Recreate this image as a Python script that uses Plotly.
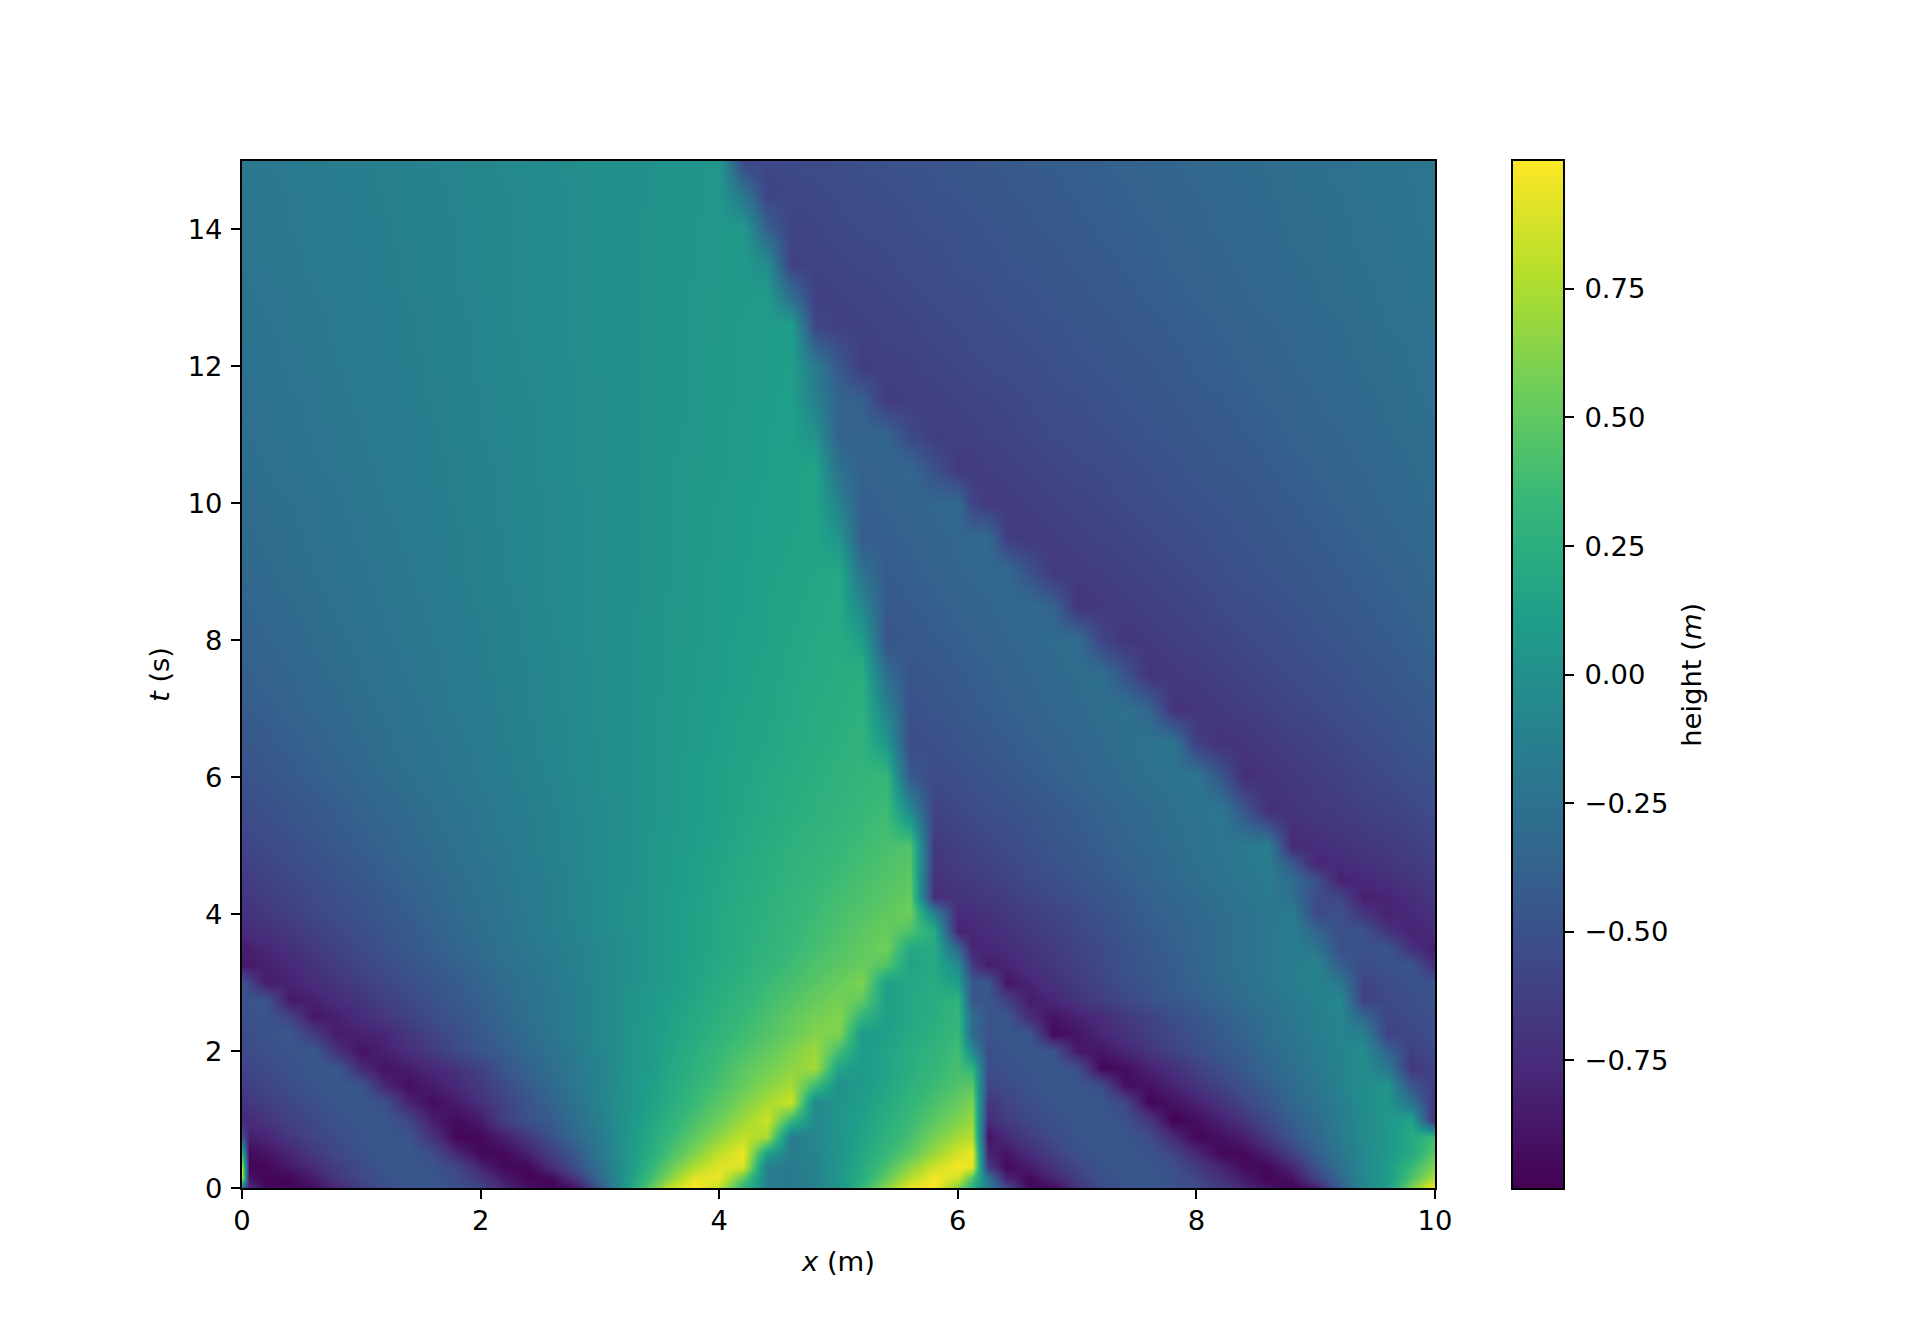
import plotly.graph_objects as go

x_m = [0,.06,.2,.4,.6,.8,1,1.2,1.4,1.6,1.8,2,2.2,2.4,2.6,2.8,3,3.2,3.4,3.6,3.8,4,4.2,4.4,4.6,4.8,5,5.2,5.4,5.6,5.8,6,6.12,6.25,6.4,6.6,6.8,7,7.2,7.4,7.6,7.8,8,8.2,8.4,8.6,8.8,9,9.2,9.4,9.6,9.8,10]
t_s = [0,.15,.3,.5,.75,1,1.25,1.5,1.75,2,2.25,2.5,2.75,3,3.25,3.5,3.75,4,4.25,4.5,4.75,5,5.5,6,6.5,7,7.5,8,8.5,9,9.5,10,10.5,11,11.5,12,12.6,13,13.5,14,14.5,15]

h_000 = [-.3,-.75, -.95,-1,-.92,-.78,-.62, -.52,-.46,-.45,-.5,-.6, -.78,-.92,-1,-.9,-.45, .05,.45,.85,1,.8, .3,-.12,-.2,-.12,.05, .3,.65,.95,1,.6, .25,-.15, -.55,-.95,-.95,-.72, -.55,-.47,-.45,-.48,-.53, -.65,-.78,-.9,-1,-.85, -.4,-.08,.1,.6,1]
h_015 = [.8,-.9, -.98,-.97,-.84,-.68,-.57, -.49,-.45,-.47,-.54,-.68, -.87,-.98,-.95,-.68,-.3, .03,.35,.65,.93,.94, .5,-.13,-.2,-.11,.05, .25,.5,.78,.97,.86, .45,-.25, -.8,-.95,-.8,-.63, -.51,-.46,-.46,-.5,-.58, -.72,-.86,-.98,-.9,-.6, -.33,-.07,.08,.42,.76]
h_030 = [.75,-.98, -.96,-.87,-.76,-.63,-.54, -.47,-.45,-.48,-.58,-.81, -.95,-.96,-.75,-.5,-.27, .02,.28,.54,.77,.92, .88,-.14,-.19,-.1,.04, .22,.42,.65,.86,.98, .92,-.65, -.95,-.86,-.7,-.58, -.49,-.45,-.47,-.52,-.65, -.8,-.94,-.96,-.8,-.5, -.27,-.06,.08,.35,.62]
h_050 = [.3,-.96, -.9,-.79,-.67,-.57,-.5, -.45,-.45,-.53,-.77,-.96, -.96,-.83,-.63,-.44,-.2, .02,.22,.42,.62,.82, .95,.1,-.16,-.09,.03, .18,.33,.5,.7,.88, .96,-.8, -.9,-.75,-.62,-.52, -.46,-.45,-.49,-.58,-.77, -.95,-.96,-.84,-.62,-.4, -.22,-.06,.07,.2,.5]
h_075 = [-.5,-.83, -.79,-.68,-.59,-.53,-.48, -.45,-.49,-.72,-.98,-.95, -.84,-.67,-.5,-.33,-.17, .02,.18,.34,.5,.66, .82,.73,-.17,-.08,.03, .15,.28,.4,.58,.72, .78,-.9, -.76,-.64,-.55,-.48, -.45,-.47,-.53,-.76,-.97, -.92,-.84,-.66,-.47,-.33, -.18,-.05,.05,.2,.38]
h_100 = [-.77,-.76, -.7,-.61,-.55,-.49,-.46, -.46,-.58,-.85,-.94,-.86, -.62,-.5,-.41,-.27,-.13, .02,.15,.28,.42,.55, .7,.85,.35,-.07,.03, .13,.25,.36,.48,.61, .68,-.75, -.65,-.57,-.5,-.46, -.46,-.5,-.67,-1,-.92, -.82,-.7,-.55,-.4,-.3, -.16,-.04,.05,.15,-.77]
h_125 = [-.7,-.67, -.63,-.57,-.51,-.47,-.45, -.51,-.82,-.93,-.85,-.72, -.6,-.48,-.36,-.24,-.11, .01,.12,.23,.35,.47, .6,.73,.85,-.06,.03, .11,.2,.31,.41,.52, .6,-.68, -.6,-.52,-.47,-.45, -.47,-.57,-.98,-.9,-.82, -.7,-.58,-.46,-.34,-.25, -.14,-.03,.05,-.24,-.7]
h_150 = [-.65,-.62, -.58,-.52,-.48,-.45,-.47, -.8,-.92,-.84,-.76,-.66, -.54,-.41,-.31,-.2,-.1, .01,.11,.21,.31,.41, .52,.63,.73,.38,0, .08,.17,.27,.36,.44, .48,-.58, -.54,-.49,-.46,-.46, -.53,-.93,-.9,-.8,-.7, -.6,-.5,-.4,-.31,-.22, -.12,-.03,.04,-.47,-.64]
h_175 = [-.58,-.57, -.54,-.5,-.46,-.45,-.77, -.9,-.84,-.77,-.7,-.6, -.46,-.37,-.28,-.19,-.09, .01,.09,.18,.27,.37, .48,.56,.65,.72,.15, .07,.15,.24,.32,.4, .3,-.53, -.5,-.47,-.45,-.5, -.97,-.92,-.82,-.72,-.62, -.52,-.43,-.35,-.27,-.19, -.11,-.03,-.2,-.68,-.6]
h_200 = [-.55,-.54, -.51,-.48,-.45,-.72,-.9, -.82,-.74,-.65,-.55,-.47, -.41,-.33,-.25,-.17,-.08, .01,.08,.17,.25,.34, .42,.5,.6,.7,.38, .08,.15,.23,.3,.38, -.05,-.52, -.48,-.46,-.47,-.87, -.88,-.79,-.7,-.61,-.53, -.45,-.4,-.32,-.25,-.17, -.1,-.03,-.36,-.62,-.55]
h_225 = [-.52,-.52, -.49,-.46,-.65,-.86,-.82, -.78,-.68,-.6,-.52,-.44, -.37,-.29,-.22,-.14,-.07, .01,.08,.15,.22,.3, .37,.45,.53,.62,.6, .07,.12,.2,.27,.35, -.3,-.49, -.46,-.45,-.95,-.88, -.79,-.71,-.63,-.56,-.49, -.43,-.36,-.28,-.22,-.15, -.09,-.13,-.6,-.56,-.52]
h_250 = [-.5,-.5, -.47,-.59,-.88,-.82,-.75, -.68,-.6,-.53,-.47,-.41, -.34,-.27,-.2,-.14,-.07, .01,.07,.14,.2,.27, .34,.42,.5,.57,.62, .3,.12,.18,.24,.31, -.3,-.46, -.45,-.75,-.9,-.82, -.75,-.67,-.6,-.53,-.47, -.4,-.34,-.27,-.21,-.15, -.08,-.33,-.57,-.54,-.5]
h_275 = [-.48,-.48, -.47,-.87,-.82,-.75,-.69, -.62,-.56,-.5,-.44,-.39, -.32,-.26,-.2,-.13,-.07, .01,.06,.12,.18,.25, .31,.38,.45,.52,.58, .5,.12,.18,.24,.3, -.46,-.46, -.6,-.85,-.78,-.7, -.63,-.57,-.5,-.45,-.4, -.35,-.29,-.24,-.18,-.12, -.06,-.62,-.55,-.52,-.48]
h_300 = [-.47,-.58, -.85,-.8,-.75,-.69,-.63, -.57,-.52,-.47,-.42,-.36, -.3,-.25,-.19,-.13,-.07, 0,.05,.1,.16,.22, .28,.35,.41,.47,.53, .6,.12,.17,.22,.1, -.46,-.45, -.88,-.8,-.72,-.65, -.59,-.52,-.47,-.42,-.37, -.31,-.27,-.2,-.15,-.1, -.2,-.6,-.53,-.5,-.47]
h_325 = [-.87,-.86, -.82,-.77,-.71,-.64,-.58, -.53,-.48,-.43,-.38,-.33, -.27,-.22,-.18,-.12,-.07, -.01,.05,.1,.15,.2, .25,.31,.37,.43,.48, .53,.45,.15,.2,-.05, -.65,-.85, -.8,-.73,-.67,-.62, -.56,-.5,-.45,-.41,-.36, -.3,-.25,-.2,-.15,-.1, -.41,-.53,-.5,-.47,-.75]
h_350 = [-.84,-.82, -.78,-.73,-.66,-.6,-.55, -.5,-.44,-.4,-.35,-.3, -.25,-.2,-.16,-.11,-.06, -.01,.04,.09,.14,.19, .24,.29,.34,.39,.45, .5,.56,.2,.22,-.35, -.8,-.78, -.75,-.7,-.65,-.6, -.55,-.49,-.44,-.4,-.34, -.3,-.25,-.2,-.14,-.23, -.5,-.5,-.47,-.72,-.84]
h_375 = [-.76,-.75, -.72,-.67,-.62,-.57,-.52, -.47,-.43,-.38,-.33,-.28, -.24,-.19,-.14,-.1,-.05, 0,.05,.09,.14,.19, .24,.28,.33,.38,.43, .48,.53,.42,.22,-.82, -.78,-.75, -.71,-.66,-.62,-.57, -.52,-.47,-.42,-.38,-.34, -.3,-.25,-.2,-.15,-.35, -.51,-.48,-.7,-.81,-.76]
h_400 = [-.72,-.71, -.67,-.62,-.57,-.53,-.5, -.45,-.41,-.36,-.31,-.27, -.22,-.18,-.13,-.09,-.04, 0,.05,.09,.14,.18, .23,.27,.32,.36,.41, .45,.5,.55,-.1,-.77, -.74,-.71, -.67,-.63,-.59,-.55, -.5,-.45,-.4,-.37,-.33, -.29,-.25,-.2,-.16,-.55, -.5,-.68,-.81,-.77,-.72]
h_425 = [-.68,-.67, -.64,-.59,-.55,-.51,-.48, -.43,-.39,-.34,-.3,-.26, -.22,-.17,-.13,-.09,-.04, 0,.05,.09,.13,.18, .22,.26,.31,.35,.39, .43,.47,.52,-.74,-.71, -.69,-.67, -.64,-.59,-.55,-.51, -.47,-.43,-.38,-.34,-.31, -.27,-.22,-.18,-.28,-.53, -.58,-.83,-.79,-.74,-.68]
h_450 = [-.65,-.64, -.61,-.57,-.53,-.49,-.45, -.41,-.37,-.33,-.29,-.25, -.21,-.17,-.13,-.09,-.04, 0,.04,.08,.12,.17, .21,.25,.29,.33,.37, .41,.45,.49,-.72,-.67, -.65,-.63, -.6,-.55,-.52,-.48, -.44,-.4,-.36,-.32,-.28, -.24,-.21,-.17,-.3,-.5, -.82,-.77,-.73,-.69,-.65]
h_475 = [-.62,-.61, -.58,-.54,-.5,-.47,-.43, -.39,-.35,-.31,-.27,-.24, -.2,-.16,-.12,-.08,-.04, 0,.04,.08,.12,.16, .2,.24,.28,.32,.35, .39,.43,.47,-.69,-.64, -.62,-.6, -.57,-.53,-.49,-.46, -.42,-.38,-.35,-.31,-.27, -.23,-.2,-.16,-.45,-.79, -.76,-.72,-.69,-.65,-.62]
h_500 = [-.59,-.58, -.55,-.52,-.48,-.44,-.41, -.37,-.33,-.3,-.26,-.22, -.19,-.15,-.11,-.08,-.04, 0,.04,.08,.11,.15, .19,.23,.27,.3,.34, .37,.41,.44,-.66,-.62, -.6,-.57, -.55,-.51,-.47,-.44, -.4,-.36,-.33,-.29,-.26, -.22,-.19,-.16,-.77,-.74, -.71,-.68,-.66,-.63,-.59]
h_550 = [-.54,-.53, -.51,-.47,-.44,-.41,-.37, -.34,-.31,-.27,-.24,-.21, -.17,-.14,-.11,-.07,-.04, -.01,.03,.06,.1,.13, .17,.2,.24,.27,.3, .34,.37,-.05,-.6,-.56, -.54,-.52, -.5,-.47,-.44,-.41, -.37,-.34,-.31,-.27,-.24, -.21,-.45,-.73,-.7,-.67, -.65,-.62,-.6,-.57,-.54]
h_600 = [-.49,-.48, -.46,-.43,-.4,-.37,-.34, -.3,-.27,-.24,-.21,-.18, -.15,-.12,-.09,-.06,-.03, 0,.03,.06,.1,.13, .16,.19,.22,.25,.28, .31,.34,-.43,-.55,-.52, -.5,-.48, -.46,-.42,-.39,-.36, -.33,-.3,-.27,-.24,-.21, -.45,-.74,-.7,-.67,-.64, -.61,-.58,-.55,-.52,-.49]
h_650 = [-.45,-.45, -.43,-.4,-.37,-.34,-.31, -.28,-.25,-.23,-.2,-.17, -.14,-.11,-.08,-.05,-.03, 0,.03,.06,.09,.12, .15,.17,.2,.23,.26, .29,.06,-.54,-.51,-.48, -.46,-.44, -.42,-.39,-.37,-.34, -.31,-.28,-.25,-.22,-.62, -.71,-.69,-.66,-.63,-.6, -.57,-.54,-.51,-.48,-.45]
h_700 = [-.42,-.42, -.4,-.37,-.34,-.32,-.29, -.26,-.24,-.21,-.18,-.16, -.13,-.1,-.08,-.05,-.02, 0,.03,.06,.08,.11, .14,.16,.19,.22,.24, .27,-.1,-.5,-.47,-.45, -.43,-.41, -.39,-.37,-.34,-.32, -.29,-.26,-.35,-.71,-.69, -.66,-.64,-.61,-.58,-.56, -.53,-.5,-.48,-.45,-.42]
h_750 = [-.4,-.39, -.37,-.35,-.32,-.3,-.27, -.25,-.22,-.2,-.17,-.15, -.12,-.1,-.07,-.05,-.02, 0,.03,.05,.08,.1, .13,.15,.18,.2,.23, .25,-.28,-.47,-.45,-.42, -.41,-.39, -.37,-.35,-.32,-.3, -.27,-.48,-.7,-.67,-.65, -.62,-.6,-.57,-.55,-.52, -.5,-.47,-.45,-.42,-.4]
h_800 = [-.37,-.37, -.35,-.33,-.3,-.28,-.26, -.23,-.21,-.19,-.16,-.14, -.12,-.09,-.07,-.04,-.02, 0,.03,.05,.07,.1, .12,.14,.17,.19,.21, .12,-.47,-.44,-.42,-.4, -.38,-.37, -.35,-.33,-.3,-.28, -.58,-.68,-.66,-.63,-.61, -.59,-.56,-.54,-.52,-.49, -.47,-.44,-.42,-.4,-.37]
h_850 = [-.35,-.35, -.33,-.31,-.29,-.26,-.24, -.22,-.2,-.18,-.15,-.13, -.11,-.09,-.06,-.04,-.02, 0,.02,.05,.07,.09, .11,.14,.16,.18,.2, -.08,-.44,-.42,-.4,-.37, -.36,-.35, -.33,-.31,-.37,-.69, -.67,-.64,-.62,-.6,-.58, -.55,-.53,-.51,-.49,-.46, -.44,-.42,-.4,-.38,-.35]
h_900 = [-.33,-.33, -.31,-.29,-.27,-.25,-.23, -.21,-.19,-.17,-.14,-.12, -.1,-.08,-.06,-.04,-.02, 0,.02,.04,.07,.09, .11,.13,.15,.17,.19, -.25,-.42,-.4,-.37,-.35, -.34,-.33, -.31,-.49,-.67,-.65, -.63,-.61,-.59,-.57,-.55, -.52,-.5,-.48,-.46,-.44, -.42,-.4,-.38,-.36,-.33]
h_950 = [-.32,-.31, -.3,-.28,-.26,-.24,-.22, -.2,-.18,-.16,-.14,-.12, -.1,-.08,-.06,-.04,-.02, 0,.02,.04,.06,.08, .1,.12,.14,.16,.04, -.42,-.4,-.38,-.36,-.34, -.32,-.31, -.62,-.66,-.64,-.62, -.6,-.58,-.56,-.54,-.52, -.5,-.48,-.46,-.44,-.42, -.4,-.38,-.36,-.34,-.32]
h_1000 = [-.3,-.3, -.28,-.27,-.25,-.23,-.21, -.19,-.17,-.15,-.13,-.11, -.09,-.08,-.06,-.04,-.02, 0,.02,.04,.06,.08, .1,.12,.13,.15,-.12, -.4,-.38,-.36,-.34,-.32, -.59,-.66, -.65,-.63,-.61,-.59, -.57,-.55,-.53,-.51,-.49, -.48,-.46,-.44,-.42,-.4, -.38,-.36,-.34,-.32,-.3]
h_1050 = [-.29,-.28, -.27,-.25,-.23,-.22,-.2, -.18,-.16,-.14,-.13,-.11, -.09,-.07,-.05,-.03,-.02, 0,.02,.04,.06,.07, .09,.11,.13,.15,-.26, -.38,-.36,-.34,-.49,-.66, -.65,-.63, -.62,-.6,-.58,-.56, -.55,-.53,-.51,-.49,-.47, -.45,-.44,-.42,-.4,-.38, -.36,-.35,-.33,-.31,-.29]
h_1100 = [-.28,-.27, -.26,-.24,-.22,-.21,-.19, -.17,-.16,-.14,-.12,-.1, -.09,-.07,-.05,-.03,-.02, 0,.02,.04,.05,.07, .09,.11,.12,.02,-.38, -.36,-.35,-.55,-.64,-.62, -.62,-.6, -.59,-.57,-.55,-.54, -.52,-.5,-.48,-.47,-.45, -.43,-.42,-.4,-.38,-.36, -.35,-.33,-.31,-.29,-.28]
h_1150 = [-.26,-.26, -.25,-.23,-.22,-.2,-.18, -.17,-.15,-.13,-.12,-.1, -.08,-.07,-.05,-.03,-.02, 0,.02,.03,.05,.07, .08,.1,.12,-.12,-.36, -.39,-.65,-.63,-.62,-.6, -.59,-.58, -.57,-.55,-.53,-.52, -.5,-.48,-.47,-.45,-.43, -.42,-.4,-.38,-.37,-.35, -.33,-.32,-.3,-.28,-.26]
h_1200 = [-.25,-.25, -.24,-.22,-.21,-.19,-.17, -.16,-.14,-.13,-.11,-.09, -.08,-.06,-.05,-.03,-.01, 0,.02,.03,.05,.07, .08,.1,.11,-.18,-.45, -.64,-.62,-.61,-.59,-.57, -.56,-.55, -.54,-.53,-.51,-.49, -.48,-.46,-.45,-.43,-.41, -.4,-.38,-.37,-.35,-.33, -.32,-.3,-.29,-.27,-.25]
h_1260 = [-.24,-.24, -.23,-.21,-.2,-.18,-.17, -.15,-.14,-.12,-.11,-.09, -.07,-.06,-.04,-.03,-.01, 0,.02,.03,.05,.06, .08,.09,.11,-.57,-.62, -.61,-.59,-.58,-.56,-.55, -.54,-.53, -.52,-.5,-.49,-.47, -.46,-.44,-.43,-.41,-.4, -.38,-.37,-.35,-.34,-.32, -.31,-.29,-.27,-.26,-.24]
h_1300 = [-.24,-.23, -.22,-.21,-.19,-.18,-.16, -.15,-.13,-.12,-.1,-.09, -.07,-.06,-.04,-.03,-.01, 0,.02,.03,.05,.06, .07,.09,-.26,-.62,-.61, -.59,-.58,-.56,-.55,-.53, -.53,-.51, -.5,-.49,-.47,-.46, -.44,-.43,-.41,-.4,-.38, -.37,-.35,-.34,-.32,-.31, -.29,-.28,-.26,-.25,-.24]
h_1350 = [-.23,-.22, -.21,-.2,-.18,-.17,-.16, -.14,-.13,-.11,-.1,-.08, -.07,-.06,-.04,-.03,-.01, 0,.02,.03,.04,.06, .07,-.03,-.61,-.6,-.58, -.57,-.56,-.54,-.53,-.51, -.5,-.5, -.48,-.47,-.46,-.44, -.43,-.41,-.4,-.38,-.37, -.36,-.34,-.33,-.31,-.3, -.28,-.27,-.26,-.24,-.23]
h_1400 = [-.22,-.22, -.21,-.19,-.18,-.16,-.15, -.14,-.12,-.11,-.1,-.08, -.07,-.05,-.04,-.03,-.01, 0,.02,.03,.04,.06, .07,-.38,-.59,-.58,-.56, -.55,-.54,-.52,-.51,-.5, -.49,-.48, -.47,-.45,-.44,-.43, -.41,-.4,-.39,-.37,-.36, -.34,-.33,-.32,-.3,-.29, -.28,-.26,-.25,-.23,-.22]
h_1450 = [-.21,-.21, -.2,-.19,-.17,-.16,-.15, -.13,-.12,-.11,-.09,-.08, -.07,-.05,-.04,-.03,-.01, 0,.01,.03,.04,.05, -.2,-.59,-.57,-.56,-.55, -.53,-.52,-.51,-.49,-.48, -.47,-.46, -.45,-.44,-.43,-.41, -.4,-.39,-.37,-.36,-.35, -.33,-.32,-.31,-.29,-.28, -.27,-.25,-.24,-.23,-.21]
h_1500 = [-.21,-.2, -.19,-.18,-.17,-.15,-.14, -.13,-.12,-.1,-.09,-.08, -.06,-.05,-.04,-.02,-.01, 0,.01,.03,.04,.05, -.58,-.57,-.55,-.54,-.53, -.51,-.5,-.49,-.48,-.46, -.46,-.45, -.44,-.42,-.41,-.4, -.39,-.37,-.36,-.35,-.33, -.32,-.31,-.3,-.28,-.27, -.26,-.24,-.23,-.22,-.21]

height_rows = [h_000,h_015,h_030,h_050,h_075,h_100,h_125,h_150,h_175,h_200,h_225,h_250,h_275,h_300,h_325,h_350,h_375,h_400,h_425,h_450,h_475,h_500,h_550,h_600,h_650,h_700,h_750,h_800,h_850,h_900,h_950,h_1000,h_1050,h_1100,h_1150,h_1200,h_1260,h_1300,h_1350,h_1400,h_1450,h_1500]

cb_ticks = [-.75,-.5,-.25,0,.25,.5,.75]
cb_labels = ["\u2009−0.75","\u2009−0.50","\u2009−0.25","\u20090.00","\u20090.25","\u20090.50","\u20090.75"]
xticks = [0,2,4,6,8,10]
yticks = [0,2,4,6,8,10,12,14]

FONT = dict(family="DejaVu Sans", size=27.4, color="black")

fig = go.Figure(go.Heatmap(
    x=x_m, y=t_s, z=height_rows, colorscale="Viridis", zmin=-1, zmax=1, zsmooth="best",
    colorbar=dict(
        x=(1512.5-241.5)/1194, xanchor="left", xpad=0, y=-0.001, yanchor="bottom", ypad=0,
        len=1.002, lenmode="fraction", thickness=52, thicknessmode="pixels",
        outlinewidth=2, outlinecolor="black",
        tickmode="array", tickvals=cb_ticks, ticktext=cb_labels,
        ticks="outside", ticklen=9, tickwidth=2, tickcolor="black", tickfont=FONT,
    ),
))
fig.add_annotation(text="height (<i>m</i>)", xref="paper", yref="paper", x=(1692-241.5)/1194, y=0.5,
                   textangle=-90, showarrow=False, font=FONT, xanchor="center", yanchor="middle")
fig.update_layout(
    width=1928, height=1336, autosize=False,
    margin=dict(l=241.5, r=492.5, t=160.5, b=147.5, autoexpand=False),
    paper_bgcolor="white", plot_bgcolor="white", font=FONT,
)
axis = dict(showline=True, mirror=True, linewidth=2, linecolor="black", ticks="outside",
            ticklen=9, tickwidth=2, tickcolor="black", showgrid=False, zeroline=False,
            tickfont=FONT, tickmode="array")
fig.update_xaxes(range=[0,10], tickvals=xticks, ticklabelstandoff=-2,
                 title=dict(text="<i>x</i> (m)", font=FONT, standoff=17), **axis)
fig.update_yaxes(range=[0,15], tickvals=yticks, ticklabelstandoff=3,
                 title=dict(text="<i>t</i> (s)", font=FONT, standoff=10), **axis)
fig.write_html("out.html", post_script="document.body.style.margin='0';", config={"displayModeBar": False})
